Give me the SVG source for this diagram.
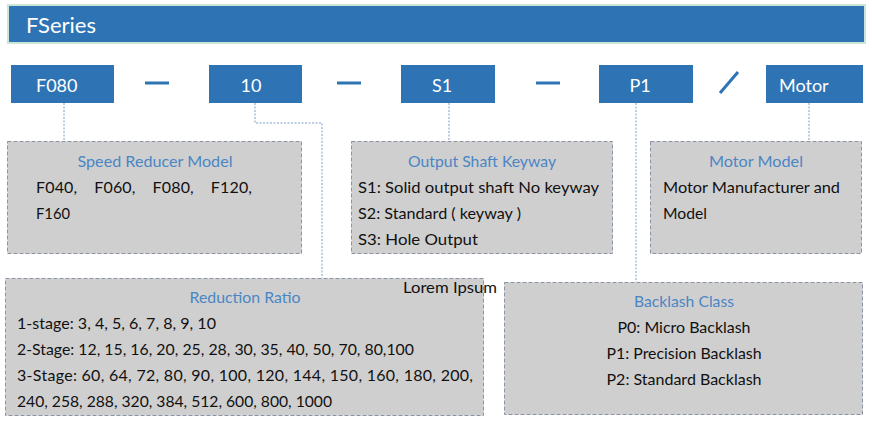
<svg xmlns="http://www.w3.org/2000/svg" width="872" height="425" viewBox="0 0 872 425">
<style>
.code{fill:#2e74b5}
.codet{font-family:Lato,"Liberation Sans",sans-serif;font-size:18px;fill:#ffffff}
.dash{stroke:#2e74b5;stroke-width:3}
.panel{fill:#d0cfd0;stroke:#8a94a4;stroke-width:1;stroke-dasharray:4 2}
.ptitle{font-family:Lato,"Liberation Sans",sans-serif;font-size:16px;fill:#4a86c4}
.body{font-family:Lato,"Liberation Sans",sans-serif;font-size:16px;fill:#111111}
.conn{fill:none;stroke:#7d9cc6;stroke-width:1;stroke-dasharray:2 1.5}
</style>
<g id="header">
<rect x="8" y="5" width="857" height="38" fill="#2e74b5" stroke="#c9e6d8" stroke-width="2"/>
<text x="26" y="33" font-family="Lato,'Liberation Sans',sans-serif" font-size="22" fill="#ffffff">FSeries</text>
</g>
<g id="connectors">
<path class="conn" d="M64 103V141"/>
<path class="conn" d="M255 103V123H322V278"/>
<path class="conn" d="M449 103V141"/>
<path class="conn" d="M636 103V282"/>
<path class="conn" d="M809 103V141"/>
</g>
<g id="separators">
<line class="dash" x1="145" y1="83" x2="169" y2="83"/>
<line class="dash" x1="337" y1="83" x2="361" y2="83"/>
<line class="dash" x1="536" y1="83" x2="560" y2="83"/>
<line class="dash" x1="720" y1="93" x2="738" y2="72"/>
</g>
<g id="code-f080"><rect class="code" x="11" y="65" width="103" height="38"/><text class="codet" x="36" y="92">F080</text></g>
<g id="code-10"><rect class="code" x="209" y="65" width="93" height="38"/><text class="codet" x="251" y="92" text-anchor="middle">10</text></g>
<g id="code-s1"><rect class="code" x="401" y="65" width="94" height="38"/><text class="codet" x="442" y="92" text-anchor="middle">S1</text></g>
<g id="code-p1"><rect class="code" x="599" y="65" width="94" height="38"/><text class="codet" x="640" y="92" text-anchor="middle">P1</text></g>
<g id="code-motor"><rect class="code" x="766" y="65" width="97" height="38"/><text class="codet" x="779" y="92">Motor</text></g>
<g id="speed-reducer-model">
<rect class="panel" x="7.5" y="141.5" width="294" height="112"/>
<text class="ptitle" x="155" y="167" text-anchor="middle" textLength="155" lengthAdjust="spacingAndGlyphs">Speed Reducer Model</text>
<text class="body" x="36" y="193" xml:space="preserve" textLength="216" lengthAdjust="spacing">F040,    F060,    F080,    F120,</text>
<text class="body" x="36" y="219" textLength="34" lengthAdjust="spacingAndGlyphs">F160</text>
</g>
<g id="output-shaft-keyway">
<rect class="panel" x="351.5" y="141.5" width="261" height="112"/>
<text class="ptitle" x="482" y="167" text-anchor="middle" textLength="148" lengthAdjust="spacingAndGlyphs">Output Shaft Keyway</text>
<text class="body" x="358" y="193" textLength="241" lengthAdjust="spacingAndGlyphs">S1: Solid output shaft No keyway</text>
<text class="body" x="358" y="219" textLength="163" lengthAdjust="spacingAndGlyphs">S2: Standard ( keyway )</text>
<text class="body" x="358" y="245" textLength="120" lengthAdjust="spacingAndGlyphs">S3: Hole Output</text>
</g>
<g id="motor-model">
<rect class="panel" x="650.5" y="141.5" width="211" height="112"/>
<text class="ptitle" x="756" y="167" text-anchor="middle" textLength="94" lengthAdjust="spacingAndGlyphs">Motor Model</text>
<text class="body" x="663" y="193" textLength="177" lengthAdjust="spacingAndGlyphs">Motor Manufacturer and</text>
<text class="body" x="663" y="219" textLength="44" lengthAdjust="spacingAndGlyphs">Model</text>
</g>
<g id="reduction-ratio">
<rect class="panel" x="5.5" y="278.5" width="478" height="137"/>
<text class="ptitle" x="245" y="303" text-anchor="middle" textLength="111" lengthAdjust="spacingAndGlyphs">Reduction Ratio</text>
<text class="body" x="17" y="329" textLength="199" lengthAdjust="spacingAndGlyphs">1-stage: 3, 4, 5, 6, 7, 8, 9, 10</text>
<text class="body" x="17" y="355" textLength="397" lengthAdjust="spacingAndGlyphs">2-Stage: 12, 15, 16, 20, 25, 28, 30, 35, 40, 50, 70, 80,100</text>
<text class="body" x="17" y="381" textLength="456" lengthAdjust="spacing">3-Stage: 60, 64, 72, 80, 90, 100, 120, 144, 150, 160, 180, 200,</text>
<text class="body" x="17" y="407" textLength="315" lengthAdjust="spacingAndGlyphs">240, 258, 288, 320, 384, 512, 600, 800, 1000</text>
</g>
<g id="backlash-class">
<rect class="panel" x="504.5" y="282.5" width="358" height="132"/>
<text class="ptitle" x="684" y="307" text-anchor="middle" textLength="100" lengthAdjust="spacingAndGlyphs">Backlash Class</text>
<text class="body" x="684" y="333" text-anchor="middle" textLength="133" lengthAdjust="spacingAndGlyphs">P0: Micro Backlash</text>
<text class="body" x="684" y="359" text-anchor="middle" textLength="155" lengthAdjust="spacingAndGlyphs">P1: Precision Backlash</text>
<text class="body" x="684" y="385" text-anchor="middle" textLength="155" lengthAdjust="spacingAndGlyphs">P2: Standard Backlash</text>
</g>
<text id="lorem" class="body" x="403" y="293" textLength="94" lengthAdjust="spacingAndGlyphs">Lorem Ipsum</text>
</svg>
